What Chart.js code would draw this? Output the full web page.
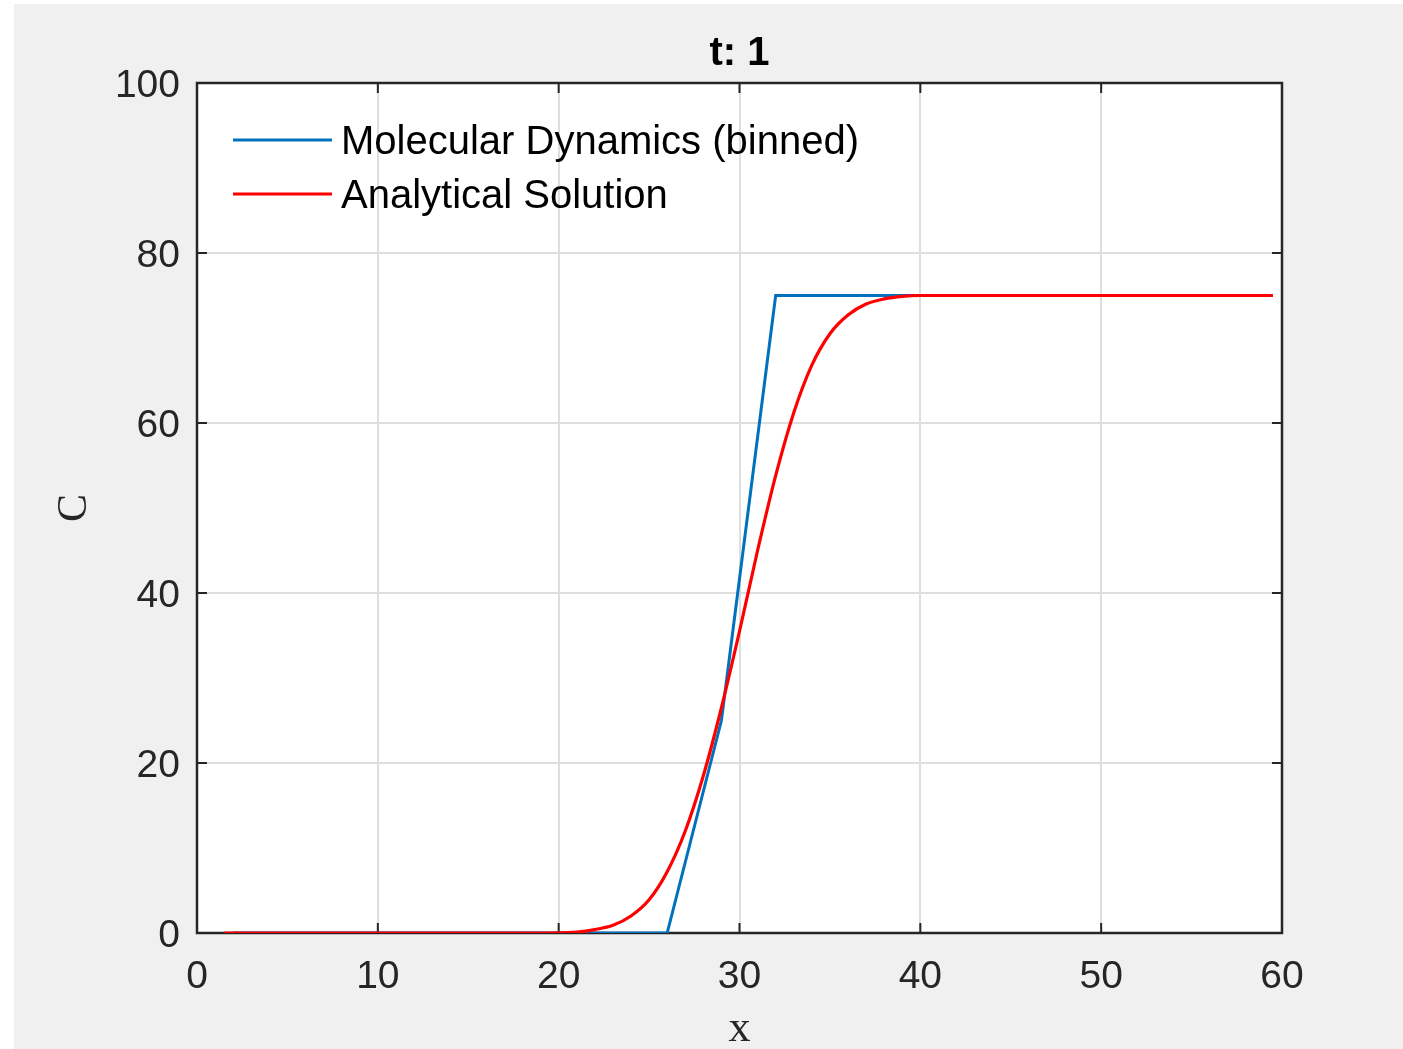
<!DOCTYPE html>
<html>
<head>
<meta charset="utf-8">
<script src="https://cdn.jsdelivr.net/npm/chart.js@4/dist/chart.umd.min.js"></script>
<style>
  html, body { margin: 0; padding: 0; background: #ffffff; }
  #wrap { position: absolute; left: 14px; top: 4px; width: 1389px; height: 1045px; background: #f0f0f0; }
  canvas { display: block; }
</style>
</head>
<body>
<div id="wrap"><canvas id="c" width="1389" height="1045"></canvas></div>
<script>
// ---- data ----
const titleText = 't: 1';
const xLabel = 'x';
const yLabel = 'C';
const mdLabel = 'Molecular Dynamics (binned)';
const anLabel = 'Analytical Solution';

const mdX = [2, 5, 8, 11, 14, 17, 20, 23, 26, 29, 32, 35, 38, 41, 44, 47, 50, 53, 56, 59];
const mdY = [0, 0, 0, 0, 0, 0, 0, 0, 0, 25, 75, 75, 75, 75, 75, 75, 75, 75, 75, 75];

const anX = [1.5, 10, 19, 20, 21, 22, 23, 24, 25, 26, 27, 28, 29, 30, 31, 32, 33, 34, 35, 36, 37, 38, 39, 40, 50, 59.5];
const anY = [0, 0, 0, 0.02, 0.1, 0.4, 0.9, 2.0, 3.9, 7.2, 12.0, 18.5, 26.5, 35.5, 45.0, 53.8, 61.2, 66.8, 70.5, 72.7, 74.0, 74.6, 74.9, 75, 75, 75];

const xTicks = [0, 10, 20, 30, 40, 50, 60];
const yTicks = [0, 20, 40, 60, 80, 100];

const mdPoints = mdX.map((x, i) => ({ x: x, y: mdY[i] }));
const anPoints = anX.map((x, i) => ({ x: x, y: anY[i] }));

const AXIS_COLOR = '#262626';

const framePlugin = {
  id: 'frame',
  beforeDatasetsDraw(chart) {
    const { ctx, chartArea: a, scales } = chart;
    ctx.save();
    ctx.fillStyle = '#ffffff';
    ctx.globalCompositeOperation = 'destination-over';
    ctx.fillRect(a.left, a.top, a.right - a.left, a.bottom - a.top);
    ctx.globalCompositeOperation = 'source-over';
    ctx.strokeStyle = AXIS_COLOR;
    ctx.lineWidth = 2;
    const tl = 10;
    ctx.beginPath();
    xTicks.forEach(v => {
      const px = scales.x.getPixelForValue(v);
      ctx.moveTo(px, a.bottom); ctx.lineTo(px, a.bottom - tl);
      ctx.moveTo(px, a.top); ctx.lineTo(px, a.top + tl);
    });
    yTicks.forEach(v => {
      const py = scales.y.getPixelForValue(v);
      ctx.moveTo(a.left, py); ctx.lineTo(a.left + tl, py);
      ctx.moveTo(a.right, py); ctx.lineTo(a.right - tl, py);
    });
    ctx.stroke();
    ctx.lineWidth = 2.5;
    ctx.strokeRect(a.left, a.top, a.right - a.left, a.bottom - a.top);
    ctx.restore();
  },
  afterDatasetsDraw(chart) {
    const { ctx, chartArea: a } = chart;
    ctx.save();
    // legend (inside, top-left)
    const rows = chart.data.datasets.map(d => ({ label: d.label, color: d.borderColor }));
    ctx.font = '40px "Liberation Sans", Arial, sans-serif';
    ctx.textBaseline = 'middle';
    ctx.textAlign = 'left';
    rows.forEach((r, i) => {
      const y = a.top + 57 + i * 54;
      ctx.strokeStyle = r.color;
      ctx.lineWidth = 3;
      ctx.beginPath();
      ctx.moveTo(a.left + 36, y);
      ctx.lineTo(a.left + 135, y);
      ctx.stroke();
      ctx.fillStyle = '#000000';
      ctx.fillText(r.label, a.left + 144, y + 3);
    });
    ctx.restore();
  }
};

new Chart(document.getElementById('c'), {
  type: 'line',
  data: {
    datasets: [
      { label: mdLabel, data: mdPoints, order: 1, borderColor: '#0072BD', backgroundColor: '#0072BD', borderWidth: 3, pointRadius: 0, tension: 0, fill: false },
      { label: anLabel, data: anPoints, order: 0, borderColor: '#FF0000', backgroundColor: '#FF0000', borderWidth: 3.2, pointRadius: 0, cubicInterpolationMode: 'monotone', fill: false }
    ]
  },
  options: {
    responsive: false,
    animation: false,
    devicePixelRatio: 1,
    layout: { padding: { left: 0, top: 0, right: 121, bottom: 0 } },
    plugins: {
      legend: { display: false },
      tooltip: { enabled: false },
      title: {
        display: true,
        text: titleText,
        fullSize: false,
        color: '#000000',
        font: { family: '"Liberation Sans", Arial, sans-serif', size: 40, weight: 'bold', lineHeight: 1.2 },
        padding: { top: 26, bottom: 5 }
      }
    },
    scales: {
      x: {
        type: 'linear',
        min: 0, max: 60,
        afterBuildTicks: s => { s.ticks = xTicks.map(v => ({ value: v })); },
        afterFit: s => { s.height = 116; },
        grid: { color: '#dedede', lineWidth: 2, drawTicks: false },
        border: { display: false },
        ticks: { color: AXIS_COLOR, padding: 21, font: { family: '"Liberation Sans", Arial, sans-serif', size: 39 } },
        title: { display: true, text: xLabel, color: AXIS_COLOR, padding: { top: 0, bottom: -2 }, font: { family: '"Liberation Serif", "Times New Roman", serif', size: 44, lineHeight: 1.0 } }
      },
      y: {
        type: 'linear',
        min: 0, max: 100,
        afterBuildTicks: s => { s.ticks = yTicks.map(v => ({ value: v })); },
        afterFit: s => { s.width = 183; },
        grid: { color: '#dedede', lineWidth: 2, drawTicks: false },
        border: { display: false },
        ticks: { color: AXIS_COLOR, padding: 17, labelOffset: 3, font: { family: '"Liberation Sans", Arial, sans-serif', size: 39 } },
        title: { display: true, text: yLabel, color: AXIS_COLOR, padding: { top: 36, bottom: 0 }, font: { family: '"Liberation Serif", "Times New Roman", serif', size: 42, lineHeight: 1.2 } }
      }
    }
  },
  plugins: [framePlugin]
});
</script>
</body>
</html>
